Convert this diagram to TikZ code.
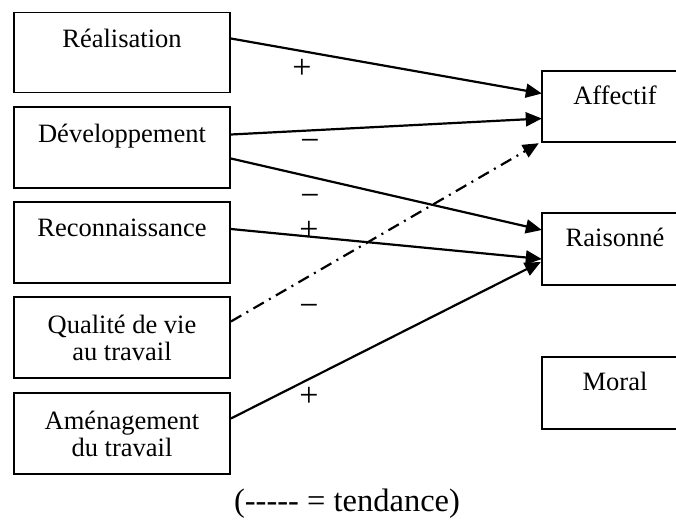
\documentclass[tikz,border=0pt]{standalone}
\usepackage{fontspec}
\setmainfont{Liberation Serif}
\usetikzlibrary{arrows.meta}
\begin{document}
\begin{tikzpicture}[x=1pt,y=-1pt,
  font=\fontsize{26.5}{27}\selectfont,
  lbox/.style={draw,line width=1.8pt,minimum width=216pt,inner sep=0pt,align=center},
  rbox/.style={inner sep=0pt,align=center,minimum width=146pt},
  rframe/.style={line width=1.8pt},
  link/.style={line width=2.2pt,-{Triangle[length=16pt,width=14pt]}},
  trend/.style={link,dash pattern=on 12pt off 6pt on 2pt off 6pt},
  sign/.style={inner sep=0pt,font=\fontsize{34}{36}\selectfont}]
\useasboundingbox (0,0) rectangle (676,520);
\clip (0,0) rectangle (676,520);
% left boxes
\node[lbox,minimum height=80pt] (rea) at (122,52.5) {Réalisation\\[-6pt]\strut};
\node[lbox,minimum height=81pt] (dev) at (122,147.5) {Développement\\[-6pt]\strut};
\node[lbox,minimum height=81pt] (rec) at (122,242.5) {Reconnaissance\\[-6pt]\strut};
\node[lbox,minimum height=81pt] (qua) at (122,337.5) {Qualité de vie\\au travail};
\node[lbox,minimum height=81pt] (ame) at (122,433.5) {Aménagement\\du travail};
% right boxes (open on the right edge)
\node[rbox,minimum height=71pt] (aff) at (615,106.5) {Affectif\\[-12pt]\strut};
\node[rbox,minimum height=72pt] (rai) at (615,249) {Raisonné\\[-12pt]\strut};
\node[rbox,minimum height=72pt] (mor) at (615,393) {Moral\\[-12pt]\strut};
\foreach \n in {aff,rai,mor}{
  \draw[rframe] ([xshift=20pt]\n.north east) -- (\n.north west) -- (\n.south west) -- ([xshift=20pt]\n.south east);
}
% connectors
\draw[link] ([yshift=14pt]rea.east) -- ([yshift=13pt]aff.west);
\draw[link] ([yshift=13pt]dev.east) -- ([yshift=-12pt]aff.west);
\draw[link] ([yshift=-11pt]dev.east) -- ([yshift=19pt]rai.west);
\draw[link] ([yshift=13.5pt]rec.east) -- ([yshift=-10pt]rai.west);
\draw[trend] ([yshift=16pt]qua.east) -- ([xshift=-3pt,yshift=-1pt]aff.south west);
\draw[link] ([yshift=15pt]ame.east) -- ([xshift=-1pt,yshift=-13pt]rai.west);
% signs
\node[sign] (s1) at (302,69) {+};
\node[sign] (s2) at (310,145) {\textminus};
\node[sign] (s3) at (310,200) {\textminus};
\node[sign] (s4) at (309,231) {+};
\node[sign] (s5) at (309,310) {\textminus};
\node[sign] (s6) at (309,397) {+};
% caption
\node[font=\fontsize{32.5}{34}\selectfont] (cap) at (347,504) {({-}{-}{-}{-}{-} = tendance)};
\end{tikzpicture}
\end{document}
